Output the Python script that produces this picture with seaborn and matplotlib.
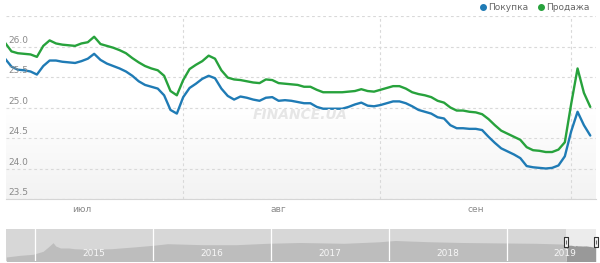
import numpy as np
import pandas as pd
import matplotlib
matplotlib.use("Agg")
import matplotlib.pyplot as plt
import matplotlib.dates as mdates
from matplotlib.lines import Line2D
from matplotlib.colors import LinearSegmentedColormap
import seaborn as sns

# ---------------- data ----------------
start_date = "2019-07-04"
end_date = "2019-10-04"
buy = [25.80, 25.67, 25.62, 25.61, 25.59, 25.54, 25.68, 25.77, 25.77, 25.75,
       25.74, 25.73, 25.76, 25.80, 25.88, 25.78, 25.72, 25.68, 25.64, 25.59,
       25.52, 25.43, 25.37, 25.34, 25.31, 25.20, 24.96, 24.90, 25.17, 25.32,
       25.39, 25.47, 25.52, 25.48, 25.31, 25.19, 25.13, 25.18, 25.16, 25.13,
       25.11, 25.16, 25.17, 25.11, 25.12, 25.11, 25.09, 25.07, 25.07, 25.01,
       24.98, 24.98, 24.98, 24.98, 25.01, 25.05, 25.08, 25.03, 25.02, 25.04,
       25.07, 25.10, 25.10, 25.07, 25.02, 24.96, 24.93, 24.90, 24.84, 24.82,
       24.71, 24.66, 24.66, 24.65, 24.65, 24.63, 24.52, 24.42, 24.33, 24.28,
       24.23, 24.17, 24.04, 24.02, 24.01, 24.00, 24.01, 24.05, 24.20, 24.61,
       24.93, 24.71, 24.54]
sell = [26.06, 25.92, 25.89, 25.88, 25.87, 25.83, 26.01, 26.10, 26.05, 26.03,
        26.02, 26.01, 26.05, 26.07, 26.16, 26.04, 26.01, 25.98, 25.94, 25.89,
        25.81, 25.74, 25.68, 25.64, 25.61, 25.52, 25.27, 25.20, 25.45, 25.63,
        25.70, 25.76, 25.85, 25.80, 25.61, 25.49, 25.46, 25.45, 25.43, 25.41,
        25.40, 25.46, 25.45, 25.40, 25.39, 25.38, 25.37, 25.34, 25.34, 25.29,
        25.25, 25.25, 25.25, 25.25, 25.26, 25.27, 25.30, 25.27, 25.26, 25.29,
        25.32, 25.35, 25.35, 25.31, 25.25, 25.22, 25.20, 25.17, 25.11, 25.08,
        25.00, 24.95, 24.95, 24.93, 24.92, 24.89, 24.81, 24.71, 24.62, 24.57,
        24.52, 24.47, 24.35, 24.30, 24.29, 24.27, 24.27, 24.31, 24.43, 25.06,
        25.64, 25.24, 25.01]
y_ticks = [23.5, 24.0, 24.5, 25.0, 25.5, 26.0]
y_top = 26.5
month_labels = ["июл", "авг", "сен"]
month_label_dates = ["2019-07-16", "2019-08-16", "2019-09-16"]
month_starts = ["2019-08-01", "2019-09-01", "2019-10-01"]
series_names = ["Покупка", "Продажа"]

nav_dates = ["2014-10-03", "2014-11-15", "2014-12-25", "2015-01-25", "2015-02-10",
             "2015-02-25", "2015-03-05", "2015-03-20", "2015-04-15", "2015-05-01",
             "2015-06-15", "2015-08-25", "2015-11-01", "2016-01-01", "2016-02-15",
             "2016-04-20", "2016-06-01", "2016-09-15", "2016-12-20", "2017-04-01",
             "2017-08-15", "2017-12-01", "2018-01-20", "2018-05-01", "2018-08-15",
             "2018-12-31", "2019-04-01", "2019-06-20", "2019-07-04"]
nav_vals = [14.0, 15.7, 16.7, 19.7, 24.0,
            28.3, 25.0, 23.0, 23.0, 22.3,
            21.7, 22.3, 24.0, 25.7, 27.3,
            26.7, 26.3, 26.3, 27.7, 28.5,
            27.7, 29.2, 30.5, 29.3, 28.5,
            28.0, 27.7, 27.0, 25.8]
years = [2015, 2016, 2017, 2018, 2019]

dates = pd.date_range(start_date, end_date, freq="D")
df = pd.DataFrame({"date": list(dates) * 2,
                   "value": buy + sell,
                   "series": [series_names[0]] * len(buy) + [series_names[1]] * len(sell)})

blue = "#1f7bb5"
green = "#27a23c"

sns.set_style("white")
plt.rcParams["font.family"] = ["DejaVu Sans"]

fig = plt.figure(figsize=(6.0, 2.63), dpi=100)
W, H = 600, 263
ax = fig.add_axes([6 / W, 1 - 199 / H, 590 / W, 183 / H])

# background gradient
cmap = LinearSegmentedColormap.from_list("bg", ["#ffffff", "#ffffff", "#f3f3f3"])
ax.imshow(np.linspace(0, 1, 100).reshape(-1, 1), extent=[0, 1, 0, 1],
          transform=ax.transAxes, cmap=cmap, aspect="auto", zorder=0)

sns.lineplot(data=df, x="date", y="value", hue="series",
             palette={series_names[0]: blue, series_names[1]: green},
             ax=ax, linewidth=1.7, legend=False, zorder=3)

x0 = mdates.date2num(pd.Timestamp("2019-07-01")) + 3.14
x1 = mdates.date2num(pd.Timestamp("2019-07-01")) + 95.9
ax.set_xlim(x0, x1)
ax.set_ylim(y_ticks[0], y_top)

ax.set_yticks(y_ticks + [y_top])
ax.set_yticklabels([])
ax.tick_params(axis="y", length=0)
ax.grid(True, axis="y", color="#d9d9d9", linestyle=(0, (2.5, 2.5)), linewidth=0.8)

ax.set_xticks([mdates.date2num(pd.Timestamp(d)) for d in month_starts])
ax.set_xticklabels([])
ax.set_xticks([mdates.date2num(pd.Timestamp(d)) for d in month_label_dates], minor=True)
ax.set_xticklabels(month_labels, minor=True)
ax.tick_params(axis="x", which="major", length=3, color="#d5d5d5", width=0.8)
ax.tick_params(axis="x", which="minor", length=0, pad=4, labelsize=6.5, labelcolor="#8a8a8a")
ax.grid(True, axis="x", which="major", color="#d9d9d9", linestyle=(0, (2.5, 2.5)), linewidth=0.8)
ax.set_xlabel("")
ax.set_ylabel("")
for s in ["top", "left", "right"]:
    ax.spines[s].set_visible(False)
ax.spines["bottom"].set_color("#d5d5d5")
ax.spines["bottom"].set_linewidth(0.8)

ytr = ax.get_yaxis_transform()
for v in y_ticks:
    ax.text(2.5 / 590, v + 0.025, f"{v:.1f}", transform=ytr, ha="left", va="bottom",
            fontsize=6.5, color="#8a8a8a", zorder=4)

# watermark
fig.text(300 / W, 1 - 115 / H, "FINANCE.UA", fontsize=10, fontstyle="italic",
         fontweight="bold", color="#e6e6e6", ha="center", va="center", zorder=1)

# legend
handles = [Line2D([], [], marker="o", linestyle="", markersize=4, color=blue),
           Line2D([], [], marker="o", linestyle="", markersize=4, color=green)]
leg = fig.legend(handles, series_names, loc="upper right", bbox_to_anchor=(595 / W, 1.0 + 2 / H),
                 ncol=2, frameon=False, fontsize=6.5, handletextpad=0.1, columnspacing=0.9,
                 handlelength=1.0, borderaxespad=0.2)
for t in leg.get_texts():
    t.set_color("#666666")

# ---------------- navigator ----------------
nav = fig.add_axes([6 / W, 1 - 261 / H, 590 / W, 32 / H])
nav.set_facecolor("#d7d7d7")
nd = pd.to_datetime(nav_dates)
nav.fill_between(nd, nav_vals, 0, color="#bdbdbd", linewidth=0)
sel_start = mdates.date2num(dates[0])
sel_end = mdates.date2num(dates[-1])
nav.axvspan(sel_start, x1, color="#ececec", linewidth=0)
nav.fill_between(dates, buy, 0, color="#999999", linewidth=0)
nav.set_xlim(mdates.date2num(pd.Timestamp("2014-10-02")), x1)
nav.set_ylim(10, 42)
for yr in years:
    nav.axvline(mdates.date2num(pd.Timestamp(f"{yr}-01-01")), color="white", linewidth=0.9)
    nav.text(mdates.date2num(pd.Timestamp(f"{yr}-07-01")), 0.25, str(yr),
             transform=nav.get_xaxis_transform(), ha="center", va="center",
             fontsize=6.5, color="#f7f7f7")
rect = [(-0.5, -1), (0.5, -1), (0.5, 1), (-0.5, 1), (-0.5, -1)]
for xv in [sel_start, sel_end]:
    nav.plot([xv], [0.58], transform=nav.get_xaxis_transform(), marker=rect, markersize=6.5,
             markerfacecolor="#f4f4f4", markeredgecolor="#333333", markeredgewidth=0.8,
             linestyle="", clip_on=False, zorder=5)
    nav.plot([xv], [0.58], transform=nav.get_xaxis_transform(), marker="|", markersize=3,
             markeredgecolor="#555555", markeredgewidth=0.6, linestyle="", clip_on=False, zorder=6)
nav.set_xticks([])
nav.set_yticks([])
for s in nav.spines.values():
    s.set_visible(False)

fig.savefig("out.png", dpi=100)
